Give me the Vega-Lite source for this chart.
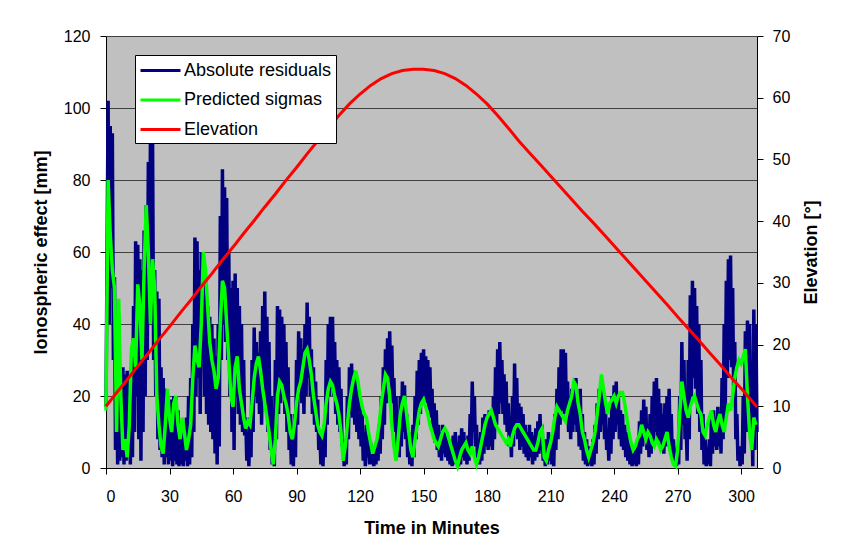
{"$schema":"https://vega.github.io/schema/vega-lite/v6.json","width":651,"height":432,"autosize":{"type":"none"},"padding":{"left":106,"top":36,"right":97,"bottom":91},"background":"white",
"config":{"view":{"fill":"#C0C0C0","stroke":null},"font":"Liberation Sans","axis":{"labelFont":"Liberation Sans","titleFont":"Liberation Sans","labelColor":"#000","titleColor":"#000","domainColor":"#000","tickColor":"#000","labelFontSize":16,"titleFontSize":18,"titleFontWeight":"bold","tickSize":6,"domainWidth":1,"tickWidth":1}},
"datasets":{
"res":[{"t":0,"v":17},{"t":0.5,"v":60},{"t":1,"v":102},{"t":1.5,"v":40},{"t":2,"v":95},{"t":2.5,"v":50},{"t":3,"v":93},{"t":3.5,"v":30},{"t":4,"v":53},{"t":4.5,"v":5},{"t":5,"v":35},{"t":5.5,"v":1},{"t":6,"v":28},{"t":6.5,"v":2},{"t":7,"v":27},{"t":7.5,"v":3},{"t":8,"v":28},{"t":8.5,"v":1},{"t":9,"v":26},{"t":9.5,"v":2},{"t":10,"v":27},{"t":10.5,"v":5},{"t":11,"v":25},{"t":11.5,"v":1},{"t":12,"v":28},{"t":12.5,"v":3},{"t":13,"v":45},{"t":13.5,"v":10},{"t":14,"v":63},{"t":14.5,"v":20},{"t":15,"v":62},{"t":15.5,"v":8},{"t":16,"v":58},{"t":16.5,"v":2},{"t":17,"v":55},{"t":17.5,"v":10},{"t":18,"v":66},{"t":18.5,"v":20},{"t":19,"v":73},{"t":19.5,"v":30},{"t":20,"v":85},{"t":20.5,"v":40},{"t":21,"v":93},{"t":21.5,"v":50},{"t":22,"v":90},{"t":22.5,"v":30},{"t":23,"v":55},{"t":23.5,"v":20},{"t":24,"v":49},{"t":24.5,"v":8},{"t":25,"v":47},{"t":25.5,"v":5},{"t":26,"v":28},{"t":26.5,"v":3},{"t":27,"v":25},{"t":27.5,"v":1},{"t":28,"v":22},{"t":28.5,"v":3},{"t":29,"v":20},{"t":29.5,"v":1},{"t":30,"v":17},{"t":30.5,"v":2},{"t":31,"v":19},{"t":31.5,"v":0.5},{"t":32,"v":20},{"t":32.5,"v":2},{"t":33,"v":20},{"t":33.5,"v":1},{"t":34,"v":16},{"t":34.5,"v":0.5},{"t":35,"v":12},{"t":35.5,"v":1},{"t":36,"v":11},{"t":36.5,"v":0.5},{"t":37,"v":10},{"t":37.5,"v":2},{"t":38,"v":14},{"t":38.5,"v":0.5},{"t":39,"v":20},{"t":39.5,"v":1},{"t":40,"v":25},{"t":40.5,"v":3},{"t":41,"v":40},{"t":41.5,"v":10},{"t":42,"v":64},{"t":42.5,"v":20},{"t":43,"v":63},{"t":43.5,"v":25},{"t":44,"v":55},{"t":44.5,"v":15},{"t":45,"v":60},{"t":45.5,"v":30},{"t":46,"v":53},{"t":46.5,"v":20},{"t":47,"v":49},{"t":47.5,"v":15},{"t":48,"v":45},{"t":48.5,"v":12},{"t":49,"v":42},{"t":49.5,"v":10},{"t":50,"v":40},{"t":50.5,"v":8},{"t":51,"v":36},{"t":51.5,"v":4},{"t":52,"v":31},{"t":52.5,"v":1},{"t":53,"v":40},{"t":53.5,"v":6},{"t":54,"v":70},{"t":54.5,"v":30},{"t":55,"v":83},{"t":55.5,"v":40},{"t":56,"v":78},{"t":56.5,"v":35},{"t":57,"v":75},{"t":57.5,"v":30},{"t":58,"v":60},{"t":58.5,"v":20},{"t":59,"v":50},{"t":59.5,"v":10},{"t":60,"v":52},{"t":60.5,"v":5},{"t":61,"v":54},{"t":61.5,"v":20},{"t":62,"v":50},{"t":62.5,"v":15},{"t":63,"v":45},{"t":63.5,"v":12},{"t":64,"v":40},{"t":64.5,"v":10},{"t":65,"v":30},{"t":65.5,"v":9},{"t":66,"v":14},{"t":66.5,"v":2},{"t":67,"v":10},{"t":67.5,"v":0.5},{"t":68,"v":14},{"t":68.5,"v":3},{"t":69,"v":30},{"t":69.5,"v":10},{"t":70,"v":39},{"t":70.5,"v":20},{"t":71,"v":35},{"t":71.5,"v":18},{"t":72,"v":32},{"t":72.5,"v":15},{"t":73,"v":38},{"t":73.5,"v":12},{"t":74,"v":45},{"t":74.5,"v":18},{"t":75,"v":49},{"t":75.5,"v":20},{"t":76,"v":42},{"t":76.5,"v":10},{"t":77,"v":35},{"t":77.5,"v":5},{"t":78,"v":20},{"t":78.5,"v":1},{"t":79,"v":8},{"t":79.5,"v":0.5},{"t":80,"v":30},{"t":80.5,"v":8},{"t":81,"v":45},{"t":81.5,"v":15},{"t":82,"v":44},{"t":82.5,"v":18},{"t":83,"v":42},{"t":83.5,"v":20},{"t":84,"v":40},{"t":84.5,"v":15},{"t":85,"v":35},{"t":85.5,"v":10},{"t":86,"v":28},{"t":86.5,"v":5},{"t":87,"v":15},{"t":87.5,"v":1},{"t":88,"v":6},{"t":88.5,"v":0.5},{"t":89,"v":15},{"t":89.5,"v":3},{"t":90,"v":30},{"t":90.5,"v":12},{"t":91,"v":38},{"t":91.5,"v":20},{"t":92,"v":36},{"t":92.5,"v":18},{"t":93,"v":33},{"t":93.5,"v":15},{"t":94,"v":40},{"t":94.5,"v":20},{"t":95,"v":46},{"t":95.5,"v":25},{"t":96,"v":42},{"t":96.5,"v":20},{"t":97,"v":33},{"t":97.5,"v":15},{"t":98,"v":28},{"t":98.5,"v":12},{"t":99,"v":24},{"t":99.5,"v":10},{"t":100,"v":19},{"t":100.5,"v":5},{"t":101,"v":10},{"t":101.5,"v":1},{"t":102,"v":6},{"t":102.5,"v":0.5},{"t":103,"v":12},{"t":103.5,"v":3},{"t":104,"v":30},{"t":104.5,"v":12},{"t":105,"v":40},{"t":105.5,"v":20},{"t":106,"v":42},{"t":106.5,"v":22},{"t":107,"v":42},{"t":107.5,"v":20},{"t":108,"v":35},{"t":108.5,"v":15},{"t":109,"v":30},{"t":109.5,"v":12},{"t":110,"v":28},{"t":110.5,"v":10},{"t":111,"v":22},{"t":111.5,"v":6},{"t":112,"v":8},{"t":112.5,"v":0.5},{"t":113,"v":5},{"t":113.5,"v":1},{"t":114,"v":20},{"t":114.5,"v":8},{"t":115,"v":28},{"t":115.5,"v":15},{"t":116,"v":29},{"t":116.5,"v":14},{"t":117,"v":27},{"t":117.5,"v":12},{"t":118,"v":25},{"t":118.5,"v":10},{"t":119,"v":22},{"t":119.5,"v":8},{"t":120,"v":20},{"t":120.5,"v":6},{"t":121,"v":15},{"t":121.5,"v":2},{"t":122,"v":10},{"t":122.5,"v":0.5},{"t":123,"v":12},{"t":123.5,"v":3},{"t":124,"v":8},{"t":124.5,"v":1},{"t":125,"v":7},{"t":125.5,"v":1},{"t":126,"v":5},{"t":126.5,"v":0.5},{"t":127,"v":6},{"t":127.5,"v":1},{"t":128,"v":7},{"t":128.5,"v":2},{"t":129,"v":12},{"t":129.5,"v":4},{"t":130,"v":20},{"t":130.5,"v":8},{"t":131,"v":28},{"t":131.5,"v":12},{"t":132,"v":33},{"t":132.5,"v":18},{"t":133,"v":36},{"t":133.5,"v":20},{"t":134,"v":38},{"t":134.5,"v":22},{"t":135,"v":34},{"t":135.5,"v":18},{"t":136,"v":25},{"t":136.5,"v":10},{"t":137,"v":20},{"t":137.5,"v":5},{"t":138,"v":15},{"t":138.5,"v":3},{"t":139,"v":20},{"t":139.5,"v":6},{"t":140,"v":24},{"t":140.5,"v":10},{"t":141,"v":23},{"t":141.5,"v":8},{"t":142,"v":15},{"t":142.5,"v":3},{"t":143,"v":10},{"t":143.5,"v":1},{"t":144,"v":8},{"t":144.5,"v":0.5},{"t":145,"v":12},{"t":145.5,"v":3},{"t":146,"v":20},{"t":146.5,"v":8},{"t":147,"v":27},{"t":147.5,"v":12},{"t":148,"v":30},{"t":148.5,"v":15},{"t":149,"v":32},{"t":149.5,"v":18},{"t":150,"v":33},{"t":150.5,"v":20},{"t":151,"v":31},{"t":151.5,"v":18},{"t":152,"v":30},{"t":152.5,"v":16},{"t":153,"v":28},{"t":153.5,"v":14},{"t":154,"v":22},{"t":154.5,"v":10},{"t":155,"v":18},{"t":155.5,"v":7},{"t":156,"v":16},{"t":156.5,"v":5},{"t":157,"v":12},{"t":157.5,"v":3},{"t":158,"v":10},{"t":158.5,"v":2},{"t":159,"v":12},{"t":159.5,"v":4},{"t":160,"v":11},{"t":160.5,"v":3},{"t":161,"v":10},{"t":161.5,"v":2},{"t":162,"v":8},{"t":162.5,"v":1},{"t":163,"v":7},{"t":163.5,"v":0.5},{"t":164,"v":9},{"t":164.5,"v":1},{"t":165,"v":10},{"t":165.5,"v":2},{"t":166,"v":7},{"t":166.5,"v":0.5},{"t":167,"v":9},{"t":167.5,"v":1},{"t":168,"v":11},{"t":168.5,"v":3},{"t":169,"v":10},{"t":169.5,"v":2},{"t":170,"v":8},{"t":170.5,"v":1},{"t":171,"v":9},{"t":171.5,"v":2},{"t":172,"v":15},{"t":172.5,"v":5},{"t":173,"v":24},{"t":173.5,"v":10},{"t":174,"v":20},{"t":174.5,"v":6},{"t":175,"v":12},{"t":175.5,"v":2},{"t":176,"v":8},{"t":176.5,"v":1},{"t":177,"v":10},{"t":177.5,"v":2},{"t":178,"v":14},{"t":178.5,"v":4},{"t":179,"v":15},{"t":179.5,"v":6},{"t":180,"v":14},{"t":180.5,"v":5},{"t":181,"v":16},{"t":181.5,"v":6},{"t":182,"v":15},{"t":182.5,"v":5},{"t":183,"v":20},{"t":183.5,"v":8},{"t":184,"v":28},{"t":184.5,"v":12},{"t":185,"v":33},{"t":185.5,"v":15},{"t":186,"v":35},{"t":186.5,"v":18},{"t":187,"v":30},{"t":187.5,"v":15},{"t":188,"v":26},{"t":188.5,"v":12},{"t":189,"v":24},{"t":189.5,"v":10},{"t":190,"v":18},{"t":190.5,"v":6},{"t":191,"v":12},{"t":191.5,"v":3},{"t":192,"v":20},{"t":192.5,"v":6},{"t":193,"v":29},{"t":193.5,"v":10},{"t":194,"v":25},{"t":194.5,"v":8},{"t":195,"v":18},{"t":195.5,"v":5},{"t":196,"v":17},{"t":196.5,"v":6},{"t":197,"v":15},{"t":197.5,"v":4},{"t":198,"v":12},{"t":198.5,"v":3},{"t":199,"v":10},{"t":199.5,"v":2},{"t":200,"v":12},{"t":200.5,"v":3},{"t":201,"v":10},{"t":201.5,"v":1},{"t":202,"v":9},{"t":202.5,"v":2},{"t":203,"v":11},{"t":203.5,"v":3},{"t":204,"v":13},{"t":204.5,"v":4},{"t":205,"v":15},{"t":205.5,"v":5},{"t":206,"v":12},{"t":206.5,"v":2},{"t":207,"v":6},{"t":207.5,"v":0.5},{"t":208,"v":8},{"t":208.5,"v":1},{"t":209,"v":10},{"t":209.5,"v":2},{"t":210,"v":9},{"t":210.5,"v":1},{"t":211,"v":8},{"t":211.5,"v":0.5},{"t":212,"v":15},{"t":212.5,"v":5},{"t":213,"v":22},{"t":213.5,"v":8},{"t":214,"v":28},{"t":214.5,"v":12},{"t":215,"v":33},{"t":215.5,"v":16},{"t":216,"v":33},{"t":216.5,"v":15},{"t":217,"v":32},{"t":217.5,"v":14},{"t":218,"v":24},{"t":218.5,"v":10},{"t":219,"v":20},{"t":219.5,"v":8},{"t":220,"v":22},{"t":220.5,"v":10},{"t":221,"v":24},{"t":221.5,"v":12},{"t":222,"v":25},{"t":222.5,"v":10},{"t":223,"v":20},{"t":223.5,"v":6},{"t":224,"v":22},{"t":224.5,"v":5},{"t":225,"v":15},{"t":225.5,"v":2},{"t":226,"v":10},{"t":226.5,"v":1},{"t":227,"v":8},{"t":227.5,"v":0.5},{"t":228,"v":6},{"t":228.5,"v":1},{"t":229,"v":5},{"t":229.5,"v":0.5},{"t":230,"v":8},{"t":230.5,"v":1},{"t":231,"v":12},{"t":231.5,"v":4},{"t":232,"v":18},{"t":232.5,"v":8},{"t":233,"v":22},{"t":233.5,"v":10},{"t":234,"v":24},{"t":234.5,"v":12},{"t":235,"v":20},{"t":235.5,"v":8},{"t":236,"v":15},{"t":236.5,"v":5},{"t":237,"v":10},{"t":237.5,"v":2},{"t":238,"v":14},{"t":238.5,"v":4},{"t":239,"v":20},{"t":239.5,"v":8},{"t":240,"v":23},{"t":240.5,"v":10},{"t":241,"v":24},{"t":241.5,"v":12},{"t":242,"v":20},{"t":242.5,"v":8},{"t":243,"v":16},{"t":243.5,"v":6},{"t":244,"v":15},{"t":244.5,"v":5},{"t":245,"v":12},{"t":245.5,"v":3},{"t":246,"v":10},{"t":246.5,"v":2},{"t":247,"v":8},{"t":247.5,"v":1},{"t":248,"v":6},{"t":248.5,"v":0.5},{"t":249,"v":4},{"t":249.5,"v":1},{"t":250,"v":5},{"t":250.5,"v":0.5},{"t":251,"v":6},{"t":251.5,"v":1},{"t":252,"v":13},{"t":252.5,"v":4},{"t":253,"v":16},{"t":253.5,"v":6},{"t":254,"v":19},{"t":254.5,"v":8},{"t":255,"v":17},{"t":255.5,"v":5},{"t":256,"v":12},{"t":256.5,"v":3},{"t":257,"v":15},{"t":257.5,"v":4},{"t":258,"v":20},{"t":258.5,"v":6},{"t":259,"v":24},{"t":259.5,"v":10},{"t":260,"v":25},{"t":260.5,"v":8},{"t":261,"v":22},{"t":261.5,"v":6},{"t":262,"v":18},{"t":262.5,"v":5},{"t":263,"v":15},{"t":263.5,"v":4},{"t":264,"v":18},{"t":264.5,"v":6},{"t":265,"v":20},{"t":265.5,"v":8},{"t":266,"v":22},{"t":266.5,"v":6},{"t":267,"v":15},{"t":267.5,"v":3},{"t":268,"v":8},{"t":268.5,"v":1},{"t":269,"v":5},{"t":269.5,"v":0.5},{"t":270,"v":6},{"t":270.5,"v":1},{"t":271,"v":20},{"t":271.5,"v":5},{"t":272,"v":35},{"t":272.5,"v":12},{"t":273,"v":30},{"t":273.5,"v":8},{"t":274,"v":12},{"t":274.5,"v":2},{"t":275,"v":30},{"t":275.5,"v":8},{"t":276,"v":48},{"t":276.5,"v":20},{"t":277,"v":52},{"t":277.5,"v":25},{"t":278,"v":50},{"t":278.5,"v":22},{"t":279,"v":45},{"t":279.5,"v":15},{"t":280,"v":40},{"t":280.5,"v":10},{"t":281,"v":30},{"t":281.5,"v":5},{"t":282,"v":15},{"t":282.5,"v":1},{"t":283,"v":8},{"t":283.5,"v":0.5},{"t":284,"v":5},{"t":284.5,"v":1},{"t":285,"v":8},{"t":285.5,"v":0.5},{"t":286,"v":15},{"t":286.5,"v":4},{"t":287,"v":16},{"t":287.5,"v":6},{"t":288,"v":14},{"t":288.5,"v":5},{"t":289,"v":17},{"t":289.5,"v":6},{"t":290,"v":15},{"t":290.5,"v":4},{"t":291,"v":25},{"t":291.5,"v":8},{"t":292,"v":40},{"t":292.5,"v":15},{"t":293,"v":52},{"t":293.5,"v":25},{"t":294,"v":58},{"t":294.5,"v":30},{"t":295,"v":59},{"t":295.5,"v":28},{"t":296,"v":50},{"t":296.5,"v":20},{"t":297,"v":35},{"t":297.5,"v":8},{"t":298,"v":15},{"t":298.5,"v":2},{"t":299,"v":6},{"t":299.5,"v":0.5},{"t":300,"v":5},{"t":300.5,"v":1},{"t":301,"v":20},{"t":301.5,"v":4},{"t":302,"v":38},{"t":302.5,"v":10},{"t":303,"v":41},{"t":303.5,"v":12},{"t":304,"v":40},{"t":304.5,"v":8},{"t":305,"v":20},{"t":305.5,"v":0.5},{"t":306,"v":44},{"t":306.5,"v":5},{"t":307,"v":40},{"t":307.5,"v":10}],
"sig":[{"t":0,"v":16},{"t":1,"v":80},{"t":2,"v":65},{"t":3,"v":55},{"t":4,"v":50},{"t":5,"v":10},{"t":6,"v":47},{"t":7,"v":20},{"t":8,"v":5},{"t":9,"v":8},{"t":10,"v":3},{"t":11,"v":12},{"t":12,"v":33},{"t":13,"v":36},{"t":14,"v":28},{"t":15,"v":51},{"t":16,"v":45},{"t":17,"v":30},{"t":18,"v":55},{"t":19,"v":73},{"t":20,"v":60},{"t":21,"v":40},{"t":22,"v":58},{"t":23,"v":50},{"t":24,"v":20},{"t":25,"v":12},{"t":26,"v":6},{"t":27,"v":4},{"t":28,"v":12},{"t":29,"v":22},{"t":30,"v":14},{"t":31,"v":10},{"t":32,"v":18},{"t":33,"v":20},{"t":34,"v":12},{"t":35,"v":8},{"t":36,"v":14},{"t":37,"v":10},{"t":38,"v":5},{"t":39,"v":8},{"t":40,"v":12},{"t":41,"v":25},{"t":42,"v":34},{"t":43,"v":30},{"t":44,"v":28},{"t":45,"v":40},{"t":46,"v":60},{"t":47,"v":55},{"t":48,"v":45},{"t":49,"v":35},{"t":50,"v":30},{"t":51,"v":27},{"t":52,"v":22},{"t":53,"v":25},{"t":54,"v":40},{"t":55,"v":52},{"t":56,"v":50},{"t":57,"v":40},{"t":58,"v":30},{"t":59,"v":20},{"t":60,"v":17},{"t":61,"v":28},{"t":62,"v":31},{"t":63,"v":22},{"t":64,"v":18},{"t":65,"v":14},{"t":66,"v":11},{"t":67,"v":13},{"t":68,"v":12},{"t":69,"v":18},{"t":70,"v":25},{"t":71,"v":29},{"t":72,"v":31},{"t":73,"v":27},{"t":74,"v":22},{"t":75,"v":18},{"t":76,"v":14},{"t":77,"v":10},{"t":78,"v":5},{"t":79,"v":1},{"t":80,"v":8},{"t":81,"v":20},{"t":82,"v":24},{"t":83,"v":23},{"t":84,"v":20},{"t":85,"v":18},{"t":86,"v":15},{"t":87,"v":10},{"t":88,"v":8},{"t":89,"v":12},{"t":90,"v":18},{"t":91,"v":22},{"t":92,"v":24},{"t":93,"v":28},{"t":94,"v":32},{"t":95,"v":33},{"t":96,"v":30},{"t":97,"v":26},{"t":98,"v":20},{"t":99,"v":16},{"t":100,"v":12},{"t":101,"v":10},{"t":102,"v":9},{"t":103,"v":12},{"t":104,"v":18},{"t":105,"v":22},{"t":106,"v":24},{"t":107,"v":23},{"t":108,"v":20},{"t":109,"v":18},{"t":110,"v":15},{"t":111,"v":10},{"t":112,"v":2},{"t":113,"v":6},{"t":114,"v":12},{"t":115,"v":18},{"t":116,"v":22},{"t":117,"v":25},{"t":118,"v":27},{"t":119,"v":24},{"t":120,"v":20},{"t":121,"v":17},{"t":122,"v":15},{"t":123,"v":14},{"t":124,"v":10},{"t":125,"v":7},{"t":126,"v":4},{"t":127,"v":6},{"t":128,"v":8},{"t":129,"v":12},{"t":130,"v":18},{"t":131,"v":22},{"t":132,"v":26},{"t":133,"v":25},{"t":134,"v":20},{"t":135,"v":12},{"t":136,"v":6},{"t":137,"v":2},{"t":138,"v":8},{"t":139,"v":15},{"t":140,"v":18},{"t":141,"v":20},{"t":142,"v":15},{"t":143,"v":10},{"t":144,"v":5},{"t":145,"v":3},{"t":146,"v":8},{"t":147,"v":12},{"t":148,"v":16},{"t":149,"v":18},{"t":150,"v":19},{"t":151,"v":17},{"t":152,"v":15},{"t":153,"v":12},{"t":154,"v":10},{"t":155,"v":8},{"t":156,"v":7},{"t":157,"v":6},{"t":158,"v":8},{"t":159,"v":10},{"t":160,"v":11},{"t":161,"v":10},{"t":162,"v":8},{"t":163,"v":6},{"t":164,"v":4},{"t":165,"v":2},{"t":166,"v":0.5},{"t":167,"v":3},{"t":168,"v":5},{"t":169,"v":6},{"t":170,"v":7},{"t":171,"v":5},{"t":172,"v":4},{"t":173,"v":6},{"t":174,"v":3},{"t":175,"v":1},{"t":176,"v":3},{"t":177,"v":6},{"t":178,"v":9},{"t":179,"v":12},{"t":180,"v":14},{"t":181,"v":15},{"t":182,"v":16},{"t":183,"v":14},{"t":184,"v":12},{"t":185,"v":11},{"t":186,"v":10},{"t":187,"v":9},{"t":188,"v":8},{"t":189,"v":7},{"t":190,"v":8},{"t":191,"v":6},{"t":192,"v":9},{"t":193,"v":11},{"t":194,"v":12},{"t":195,"v":12},{"t":196,"v":11},{"t":197,"v":10},{"t":198,"v":9},{"t":199,"v":8},{"t":200,"v":7},{"t":201,"v":6},{"t":202,"v":5},{"t":203,"v":5},{"t":204,"v":7},{"t":205,"v":10},{"t":206,"v":11},{"t":207,"v":3},{"t":208,"v":2},{"t":209,"v":5},{"t":210,"v":7},{"t":211,"v":10},{"t":212,"v":14},{"t":213,"v":17},{"t":214,"v":16},{"t":215,"v":15},{"t":216,"v":14},{"t":217,"v":13},{"t":218,"v":16},{"t":219,"v":18},{"t":220,"v":20},{"t":221,"v":24},{"t":222,"v":23},{"t":223,"v":18},{"t":224,"v":15},{"t":225,"v":10},{"t":226,"v":8},{"t":227,"v":5},{"t":228,"v":3},{"t":229,"v":5},{"t":230,"v":7},{"t":231,"v":10},{"t":232,"v":15},{"t":233,"v":20},{"t":234,"v":26},{"t":235,"v":22},{"t":236,"v":18},{"t":237,"v":15},{"t":238,"v":18},{"t":239,"v":19},{"t":240,"v":20},{"t":241,"v":18},{"t":242,"v":20},{"t":243,"v":21},{"t":244,"v":21},{"t":245,"v":18},{"t":246,"v":14},{"t":247,"v":10},{"t":248,"v":7},{"t":249,"v":5},{"t":250,"v":6},{"t":251,"v":8},{"t":252,"v":9},{"t":253,"v":12},{"t":254,"v":10},{"t":255,"v":8},{"t":256,"v":10},{"t":257,"v":9},{"t":258,"v":7},{"t":259,"v":6},{"t":260,"v":8},{"t":261,"v":7},{"t":262,"v":5},{"t":263,"v":6},{"t":264,"v":8},{"t":265,"v":10},{"t":266,"v":6},{"t":267,"v":3},{"t":268,"v":1},{"t":269,"v":0.5},{"t":270,"v":5},{"t":271,"v":15},{"t":272,"v":24},{"t":273,"v":20},{"t":274,"v":16},{"t":275,"v":14},{"t":276,"v":17},{"t":277,"v":19},{"t":278,"v":20},{"t":279,"v":18},{"t":280,"v":16},{"t":281,"v":15},{"t":282,"v":10},{"t":283,"v":9},{"t":284,"v":12},{"t":285,"v":14},{"t":286,"v":16},{"t":287,"v":12},{"t":288,"v":10},{"t":289,"v":13},{"t":290,"v":15},{"t":291,"v":12},{"t":292,"v":10},{"t":293,"v":14},{"t":294,"v":18},{"t":295,"v":16},{"t":296,"v":20},{"t":297,"v":25},{"t":298,"v":28},{"t":299,"v":30},{"t":300,"v":29},{"t":301,"v":31},{"t":302,"v":33},{"t":303,"v":20},{"t":304,"v":10},{"t":305,"v":5},{"t":306,"v":14},{"t":307,"v":12}],
"elev":[{"t":0,"v":10},{"t":5,"v":12.2},{"t":10,"v":14.3},{"t":15,"v":16.5},{"t":20,"v":18.6},{"t":25,"v":20.8},{"t":30,"v":22.9},{"t":35,"v":25.1},{"t":40,"v":27.2},{"t":45,"v":29.4},{"t":50,"v":31.5},{"t":55,"v":33.7},{"t":60,"v":35.8},{"t":65,"v":38},{"t":70,"v":40.1},{"t":75,"v":42.3},{"t":80,"v":44.4},{"t":85,"v":46.6},{"t":90,"v":48.7},{"t":95,"v":50.9},{"t":100,"v":53},{"t":105,"v":55.1},{"t":110,"v":57.1},{"t":115,"v":59},{"t":120,"v":60.6},{"t":125,"v":62},{"t":130,"v":63.1},{"t":135,"v":63.9},{"t":140,"v":64.4},{"t":145,"v":64.6},{"t":150,"v":64.6},{"t":155,"v":64.4},{"t":160,"v":63.9},{"t":165,"v":63.1},{"t":170,"v":62},{"t":175,"v":60.6},{"t":180,"v":59},{"t":185,"v":57.1},{"t":190,"v":55.1},{"t":195,"v":53},{"t":200,"v":51.1},{"t":205,"v":49.2},{"t":210,"v":47.3},{"t":215,"v":45.4},{"t":220,"v":43.5},{"t":225,"v":41.6},{"t":230,"v":39.8},{"t":235,"v":37.9},{"t":240,"v":36},{"t":245,"v":34.1},{"t":250,"v":32.2},{"t":255,"v":30.3},{"t":260,"v":28.4},{"t":265,"v":26.5},{"t":270,"v":24.5},{"t":275,"v":22.6},{"t":280,"v":20.7},{"t":285,"v":18.7},{"t":290,"v":16.8},{"t":295,"v":14.8},{"t":300,"v":12.9},{"t":305,"v":10.9},{"t":307.5,"v":9.9}]
},
"encoding":{"x":{"field":"t","type":"quantitative","scale":{"domain":[0,307.5],"nice":false,"zero":false},"axis":{"values":[0,30,60,90,120,150,180,210,240,270,300],"title":"Time in Minutes","grid":false,"labelPadding":14,"titlePadding":15}}},
"layer":[
{"encoding":{"y":{"field":"v","type":"quantitative","scale":{"domain":[0,120],"nice":false},"axis":{"values":[0,20,40,60,80,100,120],"title":"Ionospheric effect [mm]","grid":true,"gridColor":"#404040","gridWidth":1,"labelPadding":10,"titlePadding":13}}},
"layer":[
{"data":{"name":"res"},"mark":{"type":"line","strokeWidth":3.5},"encoding":{"color":{"datum":"Absolute residuals","scale":{"domain":["Absolute residuals","Predicted sigmas","Elevation"],"range":["#000080","#00FF00","#FF0000"]},"legend":{"orient":"none","legendX":29,"legendY":19,"title":null,"fillColor":"#FFFFFF","strokeColor":"#000000","padding":4,"symbolType":"M-2,0H2","symbolSize":400,"symbolStrokeWidth":3,"symbolOffset":10,"labelOffset":12,"labelFontSize":18,"labelFont":"Liberation Sans","labelColor":"#000000","rowPadding":8.5,"labelLimit":400}}}},
{"data":{"name":"sig"},"mark":{"type":"line","strokeWidth":3.5},"encoding":{"color":{"datum":"Predicted sigmas"}}}
]},
{"data":{"name":"elev"},"mark":{"type":"line","strokeWidth":3},"encoding":{"y":{"field":"v","type":"quantitative","scale":{"domain":[0,70],"nice":false},"axis":{"orient":"right","values":[0,10,20,30,40,50,60,70],"title":"Elevation [°]","grid":false,"labelPadding":9,"titlePadding":13,"titleAngle":-90,"titleBaseline":"top"}},"color":{"datum":"Elevation"}}}
],
"resolve":{"scale":{"y":"independent"}}
}
